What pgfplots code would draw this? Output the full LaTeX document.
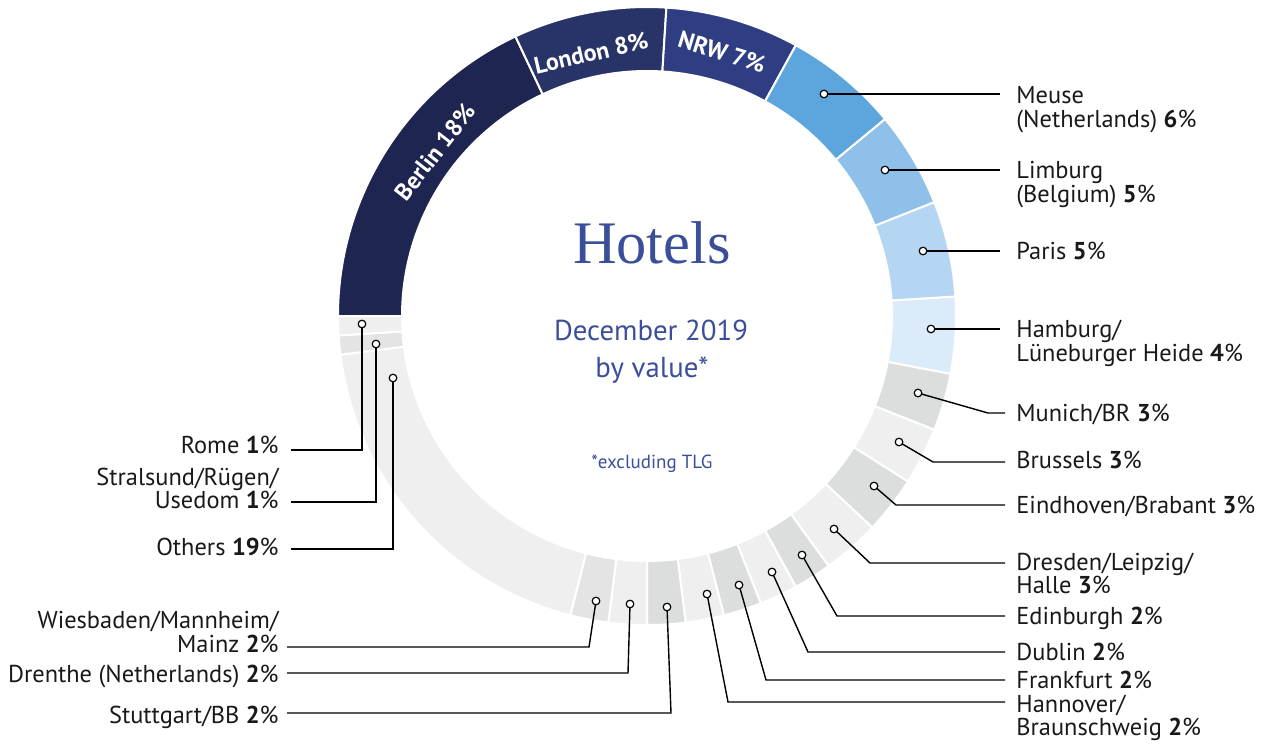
\documentclass[border=0pt]{standalone}
\usepackage{pgfplots}
\pgfplotsset{compat=1.18}
\usepackage{pgfplotstable}
\usepackage{fontspec}
\setmainfont{PT Sans}
\newfontfamily\titlefont{Liberation Serif}

\definecolor{cBerlin}{HTML}{1E2550}
\definecolor{cLondon}{HTML}{283468}
\definecolor{cNRW}{HTML}{2F3E82}
\definecolor{cMeuse}{HTML}{5DA5DD}
\definecolor{cLimburg}{HTML}{8FC0E9}
\definecolor{cParis}{HTML}{B5D6F3}
\definecolor{cHamburg}{HTML}{DCEBF9}
\definecolor{cDark}{HTML}{DCDDDD}
\definecolor{cMid}{HTML}{E4E4E4}
\definecolor{cLight}{HTML}{EFEFEF}
\definecolor{txtblue}{HTML}{3B4E9A}

\tikzset{
    lab/.style={font=\fontsize{12.2}{13}\selectfont, inner sep=0pt, text=black!90},
    seg/.style={font=\fontsize{12}{13}\selectfont\bfseries, inner sep=0pt, text=white},
}
\pgfplotsset{
    leader/.style={black, line width=0.7pt, mark=*, mark indices={1},
        mark size=1.9pt, mark options={fill=white, draw=black, line width=0.6pt}},
}

% share of portfolio by value, in ring order (clockwise from 9 o'clock)
\pgfplotstableread{
name value color
Berlin 18 cBerlin
London 8 cLondon
NRW 7 cNRW
Meuse 6 cMeuse
Limburg 5 cLimburg
Paris 5 cParis
Hamburg 4 cHamburg
Munich 3 cDark
Brussels 3 cLight
Eindhoven 3 cDark
Dresden 3 cLight
Edinburgh 2 cDark
Dublin 2 cLight
Frankfurt 2 cDark
Hannover 2 cLight
Stuttgart 2 cDark
Drenthe 2 cLight
Wiesbaden 2 cMid
Others 19 cLight
Stralsund 1 cMid
Rome 1 cLight
}\shares

\begin{document}
\begin{tikzpicture}
\begin{axis}[
    width=631pt, height=372pt, scale only axis,
    xmin=0, xmax=1262, ymin=0, ymax=744, y dir=reverse,
    hide axis, clip=false,
]
% keep the full canvas in the bounding box
\path (axis cs:0,0) rectangle (axis cs:1262,744);

% ring: centre (647,316), outer 309, inner 245 (axis units = 0.5pt)
\pgfplotstablegetrowsof{\shares}
\pgfmathtruncatemacro\nrows{\pgfplotsretval-1}
\def\angstart{180}
\pgfplotsforeachungrouped \i in {0,...,\nrows}{
    \pgfplotstablegetelem{\i}{value}\of\shares \let\val\pgfplotsretval
    \pgfplotstablegetelem{\i}{color}\of\shares \let\col\pgfplotsretval
    \pgfmathsetmacro\angend{\angstart-3.6*\val}
    \pgfmathsetmacro\xa{647+309*cos(\angstart)}
    \pgfmathsetmacro\ya{316-309*sin(\angstart)}
    \pgfmathsetmacro\xb{647+245*cos(\angend)}
    \pgfmathsetmacro\yb{316-245*sin(\angend)}
    \edef\temp{\noexpand\fill[\col, draw=white, line width=1pt]
        (axis cs:\xa,\ya) arc[start angle=\angstart, end angle=\angend, radius=154.5pt]
        -- (axis cs:\xb,\yb) arc[start angle=\angend, end angle=\angstart, radius=122.5pt] -- cycle;}
    \temp
    \let\angstart\angend
}

% labels inside the dark segments
\node[seg, rotate=52] at (axis cs:435,152) {Berlin 18\%};
\node[seg, rotate=13] at (axis cs:591,53) {London 8\%};
\node[seg, rotate=-17] at (axis cs:722,52) {NRW 7\%};

% leader lines, right side
\addplot[leader] coordinates {(824,94) (1000,94)};
\addplot[leader] coordinates {(885,170) (1000,170)};
\addplot[leader] coordinates {(923,251) (1000,251)};
\addplot[leader] coordinates {(931,329) (1000,329)};
\addplot[leader] coordinates {(918,393) (988,413) (1005,413)};
\addplot[leader] coordinates {(899,442) (933,462) (1005,462)};
\addplot[leader] coordinates {(874,486) (896,505) (1005,505)};
\addplot[leader] coordinates {(834,529) (870,563) (1005,563)};
\addplot[leader] coordinates {(802,555) (837,616) (1005,616)};
\addplot[leader] coordinates {(772,572) (808,652) (1005,652)};
\addplot[leader] coordinates {(739,585) (766,680) (1005,680)};
\addplot[leader] coordinates {(707,594) (728,702) (1005,702)};
% leader lines, left side
\addplot[leader] coordinates {(667,607) (671,713) (287,713)};
\addplot[leader] coordinates {(630,604) (628,673) (287,673)};
\addplot[leader] coordinates {(596,601) (589,647) (287,647)};
\addplot[leader] coordinates {(393,378) (393,549) (291,549)};
\addplot[leader] coordinates {(376,344) (376,502) (291,502)};
\addplot[leader] coordinates {(362,324) (362,450) (291,450)};

% centre text
\node[font=\titlefont\fontsize{30.2}{31}\selectfont, text=txtblue, anchor=base, inner sep=0pt] at (axis cs:652,263) {Hotels};
\node[font=\fontsize{14.4}{15}\selectfont, text=txtblue, anchor=base, inner sep=0pt] at (axis cs:651,340) {December 2019};
\node[font=\fontsize{14.4}{15}\selectfont, text=txtblue, anchor=base, inner sep=0pt] at (axis cs:652,377) {by value*};
\node[font=\fontsize{9.5}{10}\selectfont, text=txtblue, anchor=base, inner sep=0pt] at (axis cs:652,468) {*excluding TLG};

% right labels
\node[lab, anchor=base west] at (axis cs:1016,103) {Meuse};
\node[lab, anchor=base west] at (axis cs:1016,127) {(Netherlands) \textbf{6}\%};
\node[lab, anchor=base west] at (axis cs:1016,178) {Limburg};
\node[lab, anchor=base west] at (axis cs:1016,202) {(Belgium) \textbf{5}\%};
\node[lab, anchor=base west] at (axis cs:1016,259) {Paris \textbf{5}\%};
\node[lab, anchor=base west] at (axis cs:1016,337) {Hamburg/};
\node[lab, anchor=base west] at (axis cs:1016,361) {Lüneburger Heide \textbf{4}\%};
\node[lab, anchor=base west] at (axis cs:1016,421) {Munich/BR \textbf{3}\%};
\node[lab, anchor=base west] at (axis cs:1016,468) {Brussels \textbf{3}\%};
\node[lab, anchor=base west] at (axis cs:1016,513) {Eindhoven/Brabant \textbf{3}\%};
\node[lab, anchor=base west] at (axis cs:1016,570) {Dresden/Leipzig/};
\node[lab, anchor=base west] at (axis cs:1016,593) {Halle \textbf{3}\%};
\node[lab, anchor=base west] at (axis cs:1016,624) {Edinburgh \textbf{2}\%};
\node[lab, anchor=base west] at (axis cs:1016,660) {Dublin \textbf{2}\%};
\node[lab, anchor=base west] at (axis cs:1016,688) {Frankfurt \textbf{2}\%};
\node[lab, anchor=base west] at (axis cs:1016,712) {Hannover/};
\node[lab, anchor=base west] at (axis cs:1016,735) {Braunschweig \textbf{2}\%};

% left labels
\node[lab, anchor=base east] at (axis cs:279,453) {Rome \textbf{1}\%};
\node[lab, anchor=base east] at (axis cs:279,485) {Stralsund/Rügen/};
\node[lab, anchor=base east] at (axis cs:279,508) {Usedom \textbf{1}\%};
\node[lab, anchor=base east] at (axis cs:279,555) {Others \textbf{19}\%};
\node[lab, anchor=base east] at (axis cs:279,628) {Wiesbaden/Mannheim/};
\node[lab, anchor=base east] at (axis cs:279,652) {Mainz \textbf{2}\%};
\node[lab, anchor=base east] at (axis cs:279,682) {Drenthe (Netherlands) \textbf{2}\%};
\node[lab, anchor=base east] at (axis cs:279,723) {Stuttgart/BB \textbf{2}\%};
\end{axis}
\end{tikzpicture}
\end{document}
